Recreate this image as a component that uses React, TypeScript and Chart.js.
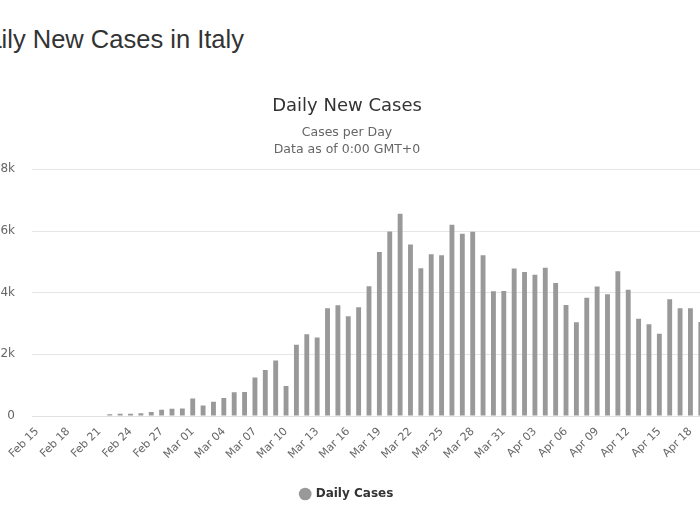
import React, { useEffect, useRef } from "react";
import { Chart, registerables } from "chart.js";

Chart.register(...registerables);

const dates = [
  "Feb 15", "Feb 16", "Feb 17", "Feb 18", "Feb 19", "Feb 20", "Feb 21", "Feb 22", "Feb 23", "Feb 24",
  "Feb 25", "Feb 26", "Feb 27", "Feb 28", "Feb 29",
  "Mar 01", "Mar 02", "Mar 03", "Mar 04", "Mar 05", "Mar 06", "Mar 07", "Mar 08", "Mar 09", "Mar 10",
  "Mar 11", "Mar 12", "Mar 13", "Mar 14", "Mar 15", "Mar 16", "Mar 17", "Mar 18", "Mar 19", "Mar 20",
  "Mar 21", "Mar 22", "Mar 23", "Mar 24", "Mar 25", "Mar 26", "Mar 27", "Mar 28", "Mar 29", "Mar 30", "Mar 31",
  "Apr 01", "Apr 02", "Apr 03", "Apr 04", "Apr 05", "Apr 06", "Apr 07", "Apr 08", "Apr 09", "Apr 10",
  "Apr 11", "Apr 12", "Apr 13", "Apr 14", "Apr 15", "Apr 16", "Apr 17", "Apr 18", "Apr 19",
];

const dailyCases = [
  0, 0, 0, 0, 0, 0,
  17, 59, 76, 74, 93, 131, 202, 233, 240,
  566, 342, 466, 587, 769, 778, 1247, 1492, 1797, 977,
  2313, 2651, 2547, 3497, 3590, 3233, 3526, 4207, 5322, 5986,
  6557, 5560, 4789, 5249, 5210, 6203, 5909, 5974, 5217, 4050, 4053,
  4782, 4668, 4585, 4805, 4316, 3599, 3039, 3836, 4204, 3951,
  4694, 4092, 3153, 2972, 2667, 3786, 3493, 3491, 3047,
];

const yTickValues = [0, 2000, 4000, 6000, 8000];
const yTickLabels = ["0", "2k", "4k", "6k", "8k"];

const pageTitle = "Daily New Cases in Italy";
const chartTitle = "Daily New Cases";
const chartSubtitle = ["Cases per Day", "Data as of 0:00 GMT+0"];
const seriesName = "Daily Cases";

const FONT = "'DejaVu Sans', sans-serif";

export default function App() {
  const ref = useRef<HTMLCanvasElement | null>(null);

  useEffect(() => {
    if (!ref.current) return;
    const chart = new Chart(ref.current, {
      type: "bar",
      data: {
        labels: dates,
        datasets: [
          {
            label: seriesName,
            data: dailyCases,
            backgroundColor: "#999999",
            borderWidth: 0,
            barPercentage: 0.47,
            categoryPercentage: 1,
          },
        ],
      },
      options: {
        responsive: false,
        animation: false,
        devicePixelRatio: 1,
        layout: { padding: { left: 0, right: 0, top: 0, bottom: 15 } },
        plugins: {
          title: {
            display: true,
            text: chartTitle,
            color: "#333333",
            font: { family: FONT, size: 18, weight: "normal" },
            padding: { top: 96, bottom: 7 },
          },
          subtitle: {
            display: true,
            text: chartSubtitle,
            color: "#666666",
            font: { family: FONT, size: 12.5, weight: "normal", lineHeight: 1.35 },
            padding: { top: 0, bottom: 11 },
          },
          legend: {
            position: "bottom",
            labels: {
              usePointStyle: true,
              pointStyle: "circle",
              boxWidth: 9,
              boxHeight: 9,
              color: "#333333",
              font: { family: FONT, size: 12, weight: "bold" },
              padding: 19,
            },
          },
          tooltip: { enabled: false },
        },
        scales: {
          x: {
            afterFit: (s: any) => {
              s.height = 53;
              s.paddingLeft = 0;
              s.paddingRight = 0;
            },
            grid: { display: false },
            border: { display: true, color: "#e0e0e0" },
            ticks: {
              autoSkip: false,
              minRotation: 45,
              maxRotation: 45,
              color: "#666666",
              font: { family: FONT, size: 11 },
              padding: 1,
              callback: (_v: any, i: number) => (i % 3 === 0 ? dates[i] : ""),
            },
          },
          y: {
            min: 0,
            max: 8000,
            afterFit: (s: any) => {
              s.width = 44;
            },
            afterBuildTicks: (s: any) => {
              s.ticks = yTickValues.map((v) => ({ value: v }));
            },
            grid: { color: "#e6e6e6", drawTicks: false },
            border: { display: false },
            ticks: {
              padding: 17,
              color: "#666666",
              font: { family: FONT, size: 12 },
              callback: (v: any) => yTickLabels[yTickValues.indexOf(Number(v))] ?? "",
            },
          },
        },
      },
    });
    return () => chart.destroy();
  }, []);

  return (
    <div
      style={{
        position: "fixed",
        left: 0,
        top: 0,
        width: 700,
        height: 525,
        overflow: "hidden",
        background: "#ffffff",
      }}
    >
      <div
        style={{
          position: "absolute",
          left: -31,
          top: 27,
          fontFamily: "'Liberation Sans', Arial, sans-serif",
          fontSize: 25.5,
          lineHeight: 1,
          color: "#333333",
          whiteSpace: "nowrap",
        }}
      >
        {pageTitle}
      </div>
      <canvas
        ref={ref}
        width={718}
        height={525}
        style={{ position: "absolute", left: -12, top: 0, width: 718, height: 525, display: "block" }}
      />
    </div>
  );
}
